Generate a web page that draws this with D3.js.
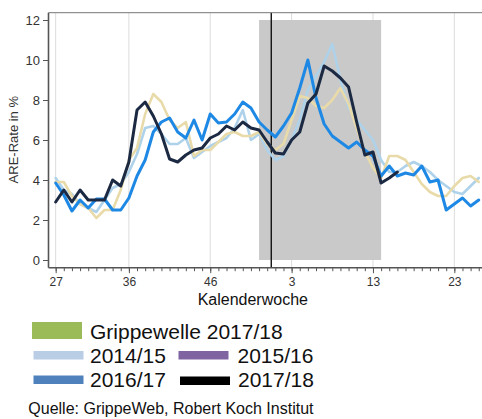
<!DOCTYPE html>
<html>
<head>
<meta charset="utf-8">
<script src="https://cdn.jsdelivr.net/npm/d3@7"></script>
<style>
  html, body { margin: 0; padding: 0; background: #fff; }
  svg { display: block; font-family: "Liberation Sans", Arial, sans-serif; }
</style>
</head>
<body>
<svg id="chart" width="482" height="419"></svg>
<script>
// ---- data ----
const weeks = [27,28,29,30,31,32,33,34,35,36,37,38,39,40,41,42,43,44,45,46,47,48,49,50,51,52,53,
               1,2,3,4,5,6,7,8,9,10,11,12,13,14,15,16,17,18,19,20,21,22,23,24,25,26];
const tickWeeks = [27, 36, 46, 3, 13, 23];
const yTicks = [0, 2, 4, 6, 8, 10, 12];

const s1415 = [4.1,3.5,3.3,2.8,2.6,2.4,3.0,3.6,3.8,4.4,5.3,6.6,6.7,6.3,5.8,5.8,6.1,5.1,5.4,5.7,5.9,6.1,6.6,7.5,6.0,6.3,5.5,
               5.0,5.2,6.0,7.0,8.5,9.2,9.9,10.8,9.0,7.6,7.0,6.5,6.0,5.0,4.4,4.4,4.7,4.9,4.7,4.4,4.0,3.7,3.4,3.3,3.7,4.1];
const s1516 = [3.9,3.9,3.2,2.8,2.6,2.1,2.5,2.5,3.5,5.0,5.6,7.3,8.3,7.9,7.0,6.6,6.9,5.2,5.5,5.5,5.9,6.3,6.4,6.2,6.2,6.4,5.8,
               5.5,5.8,7.0,8.2,8.1,7.7,7.6,8.0,8.6,7.8,6.6,5.4,4.6,4.1,5.2,5.2,5.0,4.4,3.8,3.4,3.2,3.2,3.7,4.1,4.2,3.9];
const s1617 = [3.85,3.25,2.45,3.0,2.6,3.05,3.05,2.5,2.5,3.1,4.2,5.0,6.4,6.9,7.1,6.4,6.1,7.0,6.0,7.3,6.85,6.9,7.3,7.9,7.6,6.9,6.5,
               6.15,6.7,7.35,8.6,10.0,8.1,6.8,6.2,5.9,5.6,5.9,5.5,5.2,4.2,4.7,4.2,4.35,4.25,4.7,3.9,4.0,2.5,2.8,3.1,2.7,3.0];
const s1718 = [2.9,3.5,2.9,3.5,3.0,3.0,3.0,4.0,3.7,4.9,7.5,7.9,7.2,6.3,5.05,4.9,5.25,5.5,5.6,6.1,6.3,6.7,6.5,6.9,6.6,6.5,5.9,
               5.35,5.3,6.0,6.4,7.85,8.3,9.7,9.45,9.1,8.65,6.9,5.25,5.4,3.85,4.1,4.4];

const waveStartWeek = 52, waveEndWeek = 14;   // Grippewelle 2017/18
const seriesNames = ["2014/15", "2015/16", "2016/17", "2017/18"];
const lineColors = ["#aed2ea", "#e9dba9", "#1e88e5", "#1c2942"];
const legendColors = ["#b9cde5", "#8064a2", "#4f81bd", "#000000"];
const waveLabel = "Grippewelle 2017/18";
const waveLegendColor = "#9bbb59";
const xTitle = "Kalenderwoche";
const yTitle = "ARE-Rate in %";
const source = "Quelle: GrippeWeb, Robert Koch Institut";

// ---- layout ----
const svg = d3.select("#chart");
const pLeft = 48.5, pRight = 482, pTop = 12.7, pBottom = 267.7;

const x = d3.scaleLinear().domain([-0.88, 52.4]).range([pLeft, pRight]);
const y = d3.scaleLinear().domain([-0.385, 12.365]).range([pBottom, pTop]);
const idx = w => weeks.indexOf(w);

// vertical gridlines
svg.append("g").selectAll("line").data(tickWeeks).join("line")
  .attr("x1", d => x(idx(d))).attr("x2", d => x(idx(d)))
  .attr("y1", pTop).attr("y2", pBottom)
  .attr("stroke", "#dcdcdc").attr("stroke-width", 1);

// influenza wave rectangle
svg.append("rect")
  .attr("x", x(idx(waveStartWeek)))
  .attr("width", x(idx(waveEndWeek)) - x(idx(waveStartWeek)))
  .attr("y", y(12))
  .attr("height", y(0) - y(12))
  .attr("fill", "#c9c9c9");

// year boundary line
const yb = (idx(53) + idx(1)) / 2;
svg.append("line")
  .attr("x1", x(yb)).attr("x2", x(yb))
  .attr("y1", pTop).attr("y2", pBottom)
  .attr("stroke", "#111").attr("stroke-width", 1.4);

// lines
const line = d3.line().x((d, i) => x(i)).y(d => y(d));
const allSeries = [s1415, s1516, s1617, s1718];
const widths = [2.6, 2.6, 3, 3];
svg.append("g").selectAll("path").data(allSeries).join("path")
  .attr("d", d => line(d))
  .attr("fill", "none")
  .attr("stroke", (d, i) => lineColors[i])
  .attr("stroke-width", (d, i) => widths[i])
  .attr("stroke-linejoin", "round")
  .attr("stroke-linecap", "round");

// frame: top line
svg.append("line")
  .attr("x1", pLeft).attr("x2", pRight).attr("y1", pTop).attr("y2", pTop)
  .attr("stroke", "#777").attr("stroke-width", 1);

// y axis
const yAxis = d3.axisLeft(y).tickValues(yTicks).tickSize(5.5).tickPadding(3).tickSizeOuter(0);
const gy = svg.append("g").attr("transform", `translate(${pLeft},0)`).call(yAxis);
gy.select(".domain").attr("stroke", "#555").attr("stroke-width", 1.6)
  .attr("d", `M0,${pTop}V${pBottom}`);
gy.selectAll(".tick line").attr("stroke", "#555");
gy.selectAll(".tick text").attr("font-size", 13).attr("fill", "#333")
  .attr("font-family", "Liberation Sans, Arial, sans-serif");

// x axis: minor ticks every week
const xMinor = d3.axisBottom(x).tickValues(d3.range(weeks.length)).tickSize(3.5).tickFormat("").tickSizeOuter(0);
const gxm = svg.append("g").attr("transform", `translate(0,${pBottom})`).call(xMinor);
gxm.select(".domain").attr("stroke", "#555").attr("stroke-width", 1.6)
  .attr("d", `M${pLeft},0H${pRight}`);
gxm.selectAll(".tick line").attr("stroke", "#555");

const xMajor = d3.axisBottom(x).tickValues(tickWeeks.map(idx)).tickSize(5.5).tickPadding(4)
  .tickFormat(i => String(weeks[i])).tickSizeOuter(0);
const gx = svg.append("g").attr("transform", `translate(0,${pBottom})`).call(xMajor);
gx.select(".domain").remove();
gx.selectAll(".tick line").attr("stroke", "#555");
gx.selectAll(".tick text").attr("font-size", 12).attr("fill", "#333")
  .attr("font-family", "Liberation Sans, Arial, sans-serif");

// axis titles
svg.append("text").attr("x", 252.8).attr("y", 304.5).attr("text-anchor", "middle")
  .attr("font-size", 16).attr("fill", "#111").text(xTitle);
svg.append("text").attr("transform", "translate(18,139.7) rotate(-90)").attr("text-anchor", "middle")
  .attr("font-size", 13).attr("fill", "#333").text(yTitle);

// legend
const lg = svg.append("g");
lg.append("rect").attr("x", 32).attr("y", 322).attr("width", 50).attr("height", 17).attr("fill", waveLegendColor);
lg.append("text").attr("x", 90).attr("y", 339).attr("font-size", 21).attr("fill", "#111").text(waveLabel);

const legendPos = [
  {x: 33.5, ty: 362.5, sy: 351, tx: 90},
  {x: 178.5, ty: 362.5, sy: 351, tx: 237.5},
  {x: 33.5, ty: 386.5, sy: 375.5, tx: 90},
  {x: 180, ty: 386.5, sy: 376.5, tx: 238}
];
seriesNames.forEach((name, i) => {
  const p = legendPos[i];
  lg.append("rect").attr("x", p.x).attr("y", p.sy).attr("width", 50).attr("height", 8.5).attr("fill", legendColors[i]);
  lg.append("text").attr("x", p.tx).attr("y", p.ty).attr("font-size", 21).attr("fill", "#111").text(name);
});

svg.append("text").attr("x", 28.3).attr("y", 414).attr("font-size", 16).attr("fill", "#111").text(source);
</script>
</body>
</html>
